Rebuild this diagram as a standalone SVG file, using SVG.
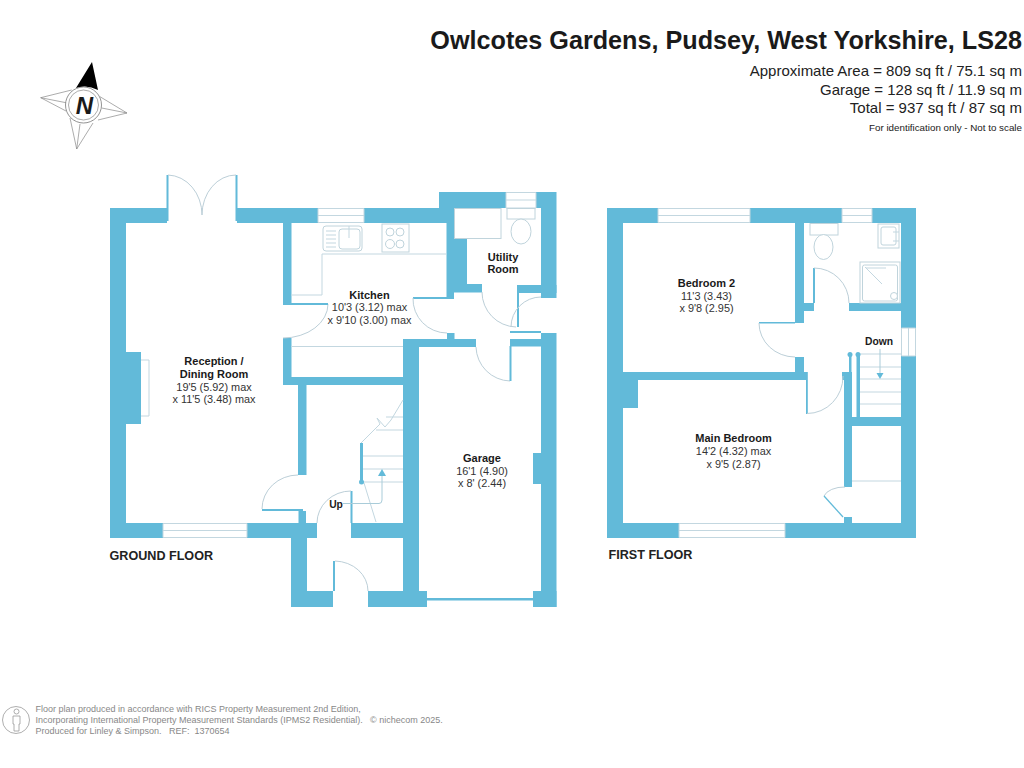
<svg xmlns="http://www.w3.org/2000/svg" width="1024" height="768" viewBox="0 0 1024 768">
<style>
text{font-family:"Liberation Sans",Arial,sans-serif;fill:#1a1a1a}
.w{fill:#62bad9;stroke:none}
.l,.win{fill:none;stroke:#c3d7e0;stroke-width:1}
.win{fill:#fff}
.d{fill:none;stroke:#bccfd8;stroke-width:1}
.f{fill:#fff;stroke:#c0d4dc;stroke-width:1}
.t{stroke:#62bad9;stroke-width:2;fill:none}
.b{font-weight:700;font-size:11px;text-anchor:middle}
.r{font-size:10.9px;text-anchor:middle;fill:#333}
.s{font-weight:700;font-size:10.3px;text-anchor:middle}
.h{font-size:15px;text-anchor:end;fill:#222}
.c{font-size:9px;fill:#888}
.fl{font-size:12.6px;font-weight:700;fill:#222}
</style>
<rect width="1024" height="768" fill="#fff"/>

<g id="header">
<text x="1022" y="49" font-size="25.2" font-weight="700" text-anchor="end" fill="#111">Owlcotes Gardens, Pudsey, West Yorkshire, LS28</text>
<text class="h" x="1022" y="76">Approximate Area = 809 sq ft / 75.1 sq m</text>
<text class="h" x="1022" y="95">Garage = 128 sq ft / 11.9 sq m</text>
<text class="h" x="1022" y="113">Total = 937 sq ft / 87 sq m</text>
<text x="1022" y="131" font-size="9.800" text-anchor="end" fill="#333">For identification only - Not to scale</text>
</g>

<g id="compass">
<path d="M71.700 90L40.700 97.700L66 111M40.700 97.700L66 102.700M100 96.700L127 113L98 120M127 113L101.700 108M70 118L76.700 149L93 123M76.700 149L80 124" fill="none" stroke="#888" stroke-width=".7"/>
<path d="M76 88 L92 62 L98 90 Q87 84 76 88Z" fill="#000"/>
<circle cx="83.500" cy="105" r="18" fill="#fff" stroke="#777" stroke-width=".8"/>
<circle cx="83.500" cy="105" r="15" fill="#fff" stroke="#888" stroke-width=".7"/>
<text x="84.500" y="114" font-size="24" font-weight="700" font-style="italic" text-anchor="middle" fill="#111">N</text>
</g>

<g id="ground-floor">
<g id="gf-walls">
<rect class="w" x="110" y="208" width="57" height="15"/>
<rect class="w" x="237" y="208" width="81" height="15"/>
<rect class="w" x="364" y="208" width="76" height="15"/>
<rect class="w" x="110" y="208" width="16" height="330"/>
<rect class="w" x="126" y="352" width="15" height="72"/>
<rect class="w" x="110" y="523" width="53" height="15"/>
<rect class="w" x="247" y="523" width="70" height="15"/>
<rect class="w" x="283" y="223" width="8.500" height="80"/>
<rect class="w" x="283" y="338" width="8.500" height="47"/>
<rect class="w" x="283" y="377" width="136" height="8"/>
<rect class="w" x="298" y="385" width="8.500" height="90"/>
<rect class="w" x="262" y="509" width="41" height="2"/>
<rect class="w" x="298.500" y="511" width="7.500" height="12"/>
<rect class="w" x="351" y="523" width="68" height="15"/>
<rect class="w" x="291" y="538" width="16" height="69"/>
<rect class="w" x="291" y="591" width="42" height="16"/>
<rect class="w" x="368" y="591" width="59" height="16"/>
<rect class="w" x="403" y="339" width="16" height="252"/>
<rect class="w" x="403" y="339" width="73" height="8"/>
<rect class="w" x="427" y="598" width="106" height="2.500"/>
<rect class="w" x="510" y="339" width="31" height="7.500"/>
<rect class="w" x="541" y="333" width="15.500" height="274"/>
<rect class="w" x="533" y="453" width="8" height="31"/>
<rect class="w" x="533" y="591" width="23.500" height="16"/>
<rect class="w" x="447" y="333" width="7.500" height="6"/>
<rect class="w" x="439" y="192" width="67" height="16"/>
<rect class="w" x="536" y="192" width="20.500" height="16"/>
<rect class="w" x="439" y="192" width="15" height="31"/>
<rect class="w" x="446.500" y="223" width="7.500" height="75"/>
<rect class="w" x="454" y="238" width="13" height="46"/>
<rect class="w" x="454" y="284" width="28" height="8.500"/>
<rect class="w" x="413" y="297" width="41" height="2"/>
<rect class="w" x="517" y="285" width="39.500" height="8"/>
<rect class="w" x="541" y="208" width="15.500" height="90"/>
<rect class="w" x="517" y="293" width="2" height="34"/>
<rect class="w" x="510" y="331" width="31" height="2"/>
</g>
<g id="gf-windows">
<path class="win" d="M318 208.500H364V222.500H318Z M318 215.500H364"/>
<path class="win" d="M163 523.500H247V537.500H163Z M163 530.500H247"/>
<path class="win" d="M506 192.500H536V208H506Z M506 200H536"/>
</g>
<g id="gf-doors">
<path class="t" d="M167.500 175V221 M236.500 175V221 M351.500 491V523 M334 561V591"/>
<path class="d" d="M168 175A35 40 0 0 1 202 215 M236 175A34 40 0 0 0 202 215"/>
<path class="d" d="M328 304A45 34 0 0 1 283 338 M413 298A34 34 0 0 0 447 333"/>
<path class="d" d="M482 292A35 35 0 0 0 516 327 M541 297A30 30 0 0 0 511 327 M476 347A35 35 0 0 0 510 381"/>
<path class="t" d="M510.500 346V381" stroke-width="1"/>
<path class="d" d="M298 475A36 34 0 0 0 262 509 M351 491A34 32 0 0 0 317 523 M335 561A34 30 0 0 1 368 591"/>
<path class="t" d="M283 304H328"/>
</g>
<g id="gf-fittings">
<path class="l" d="M141 360H149V416H141"/>
<path class="l" d="M322 254H446 M322 254V295H291 M291 346.500H403"/>
<rect class="f" x="323" y="226" width="39" height="25" rx="3"/>
<rect class="f" x="339" y="229" width="21" height="20" rx="3"/>
<path class="l" d="M326 231H336M326 235H336M326 239H336M326 243H336M326 247H336M349 226V238"/>
<rect class="f" x="382" y="224" width="27" height="28"/>
<circle class="f" cx="390" cy="232" r="4"/><circle class="f" cx="400" cy="232" r="4"/>
<circle class="f" cx="390" cy="244" r="4.500"/><circle class="f" cx="400" cy="244" r="4"/>
<rect class="f" x="454.500" y="208.500" width="46.500" height="30"/>
<rect class="f" x="507" y="208.500" width="28" height="10.500"/>
<ellipse class="f" cx="521" cy="231.500" rx="10" ry="12.500"/>
</g>
<g id="gf-stairs">
<path class="l" d="M362 456H403M362 469H403M362 482H403M376 430H403M386 417H403M361 443L376 428L380 424L377 418L385 427L391 420L403 400M364 483L376 522"/>
<rect class="w" x="360" y="443" width="3" height="39"/>
<circle class="w" cx="361.500" cy="482" r="2.500"/>
<path d="M343 503.500H379Q382 503.500 382 500V476" fill="none" stroke="#a9ccd9" stroke-width="1"/>
<path class="w" d="M382 469L386 476H378Z"/>
</g>
<g id="gf-labels">
<text class="b" x="214" y="365">Reception /</text><text class="b" x="214" y="377.500">Dining Room</text>
<text class="r" x="214" y="390.500">19'5 (5.92) max</text><text class="r" x="214" y="403">x 11'5 (3.48) max</text>
<text class="b" x="369.500" y="298.500">Kitchen</text>
<text class="r" x="369.500" y="311">10'3 (3.12) max</text><text class="r" x="369.500" y="323.500">x 9'10 (3.00) max</text>
<text class="b" x="503" y="260.500">Utility</text><text class="b" x="503" y="273">Room</text>
<text class="b" x="482" y="462">Garage</text><text class="r" x="482" y="474.500">16'1 (4.90)</text><text class="r" x="482" y="487">x 8' (2.44)</text>
<text class="s" x="336" y="508">Up</text>
<text class="fl" x="109.500" y="560">GROUND FLOOR</text>
</g>
</g>

<g id="first-floor">
<g id="ff-walls">
<rect class="w" x="607" y="208" width="51" height="15"/>
<rect class="w" x="750" y="208" width="92" height="15"/>
<rect class="w" x="872" y="208" width="44" height="15"/>
<rect class="w" x="607" y="208" width="16" height="330"/>
<rect class="w" x="901" y="208" width="15" height="120"/>
<rect class="w" x="901" y="356" width="15" height="182"/>
<rect class="w" x="607" y="523" width="72" height="15"/>
<rect class="w" x="785" y="523" width="131" height="15"/>
<rect class="w" x="795" y="223" width="9" height="100"/>
<rect class="w" x="804" y="303" width="10" height="8"/>
<rect class="w" x="849" y="303" width="52" height="8"/>
<rect class="w" x="795" y="357" width="9" height="23"/>
<rect class="w" x="759" y="322" width="36" height="1.500"/>
<rect class="w" x="622" y="372" width="184" height="8"/>
<rect class="w" x="622" y="380" width="16" height="28"/>
<rect class="w" x="806" y="372" width="1.800" height="42"/>
<rect class="w" x="842" y="372" width="10" height="8"/>
<rect class="w" x="844" y="380" width="8" height="107"/>
<rect class="w" x="852" y="417" width="49" height="9"/>
<rect class="w" x="844" y="517" width="8" height="6"/>
</g>
<g id="ff-windows">
<path class="win" d="M658 208.500H750V222.500H658Z M658 215.500H750"/>
<path class="win" d="M842 208.500H872V222.500H842Z M842 215.500H872"/>
<path class="win" d="M679 523.500H785V537.500H679Z M679 530.500H785"/>
<path class="win" d="M901.500 328H915.500V356H901.500Z M908.500 328V356"/>
</g>
<g id="ff-doors">
<path class="t" d="M814 268V303"/>
<path class="d" d="M814 268A35 35 0 0 1 849 303 M759 323A36 34 0 0 0 795 357 M807 413.500A36 37 0 0 0 843 376 M824 496A21 12 0 0 1 845 487"/>
<path d="M824 496L843 517" fill="none" stroke="#62bad9" stroke-width="1.300"/>
</g>
<g id="ff-fittings">
<rect class="f" x="810" y="223.500" width="28" height="11.500"/>
<ellipse class="f" cx="823.500" cy="247" rx="9.500" ry="12.500"/>
<rect class="f" x="878" y="224" width="21" height="24"/>
<rect class="f" x="881" y="227" width="15" height="18" rx="2"/>
<path class="l" d="M893 232H899M893 241H899"/>
<rect class="f" x="860" y="262" width="40" height="41"/>
<rect class="f" x="862.500" y="265" width="35" height="36" rx="2"/>
<path class="l" d="M865 267L882 284M866 268H886"/>
<circle class="f" cx="894" cy="296" r="3.500"/>
<path class="l" d="M852 481H901"/>
</g>
<g id="ff-stairs">
<path class="l" d="M860 354H901M860 367H901M860 379H901M860 392H901M860 404H901"/>
<rect class="w" x="849" y="354" width="2.500" height="63"/>
<rect class="w" x="856.500" y="354" width="3.500" height="63"/>
<circle class="w" cx="850" cy="354.500" r="2.500"/><circle class="w" cx="858" cy="354.500" r="2.500"/>
<path d="M880 349V373" fill="none" stroke="#a9ccd9" stroke-width="1"/>
<path class="w" d="M876.500 373H883.500L880 379Z"/>
</g>
<g id="ff-labels">
<text class="b" x="706.500" y="287">Bedroom 2</text><text class="r" x="706.500" y="299.500">11'3 (3.43)</text><text class="r" x="706.500" y="312">x 9'8 (2.95)</text>
<text class="b" x="733.500" y="442">Main Bedroom</text><text class="r" x="733.500" y="455">14'2 (4.32) max</text><text class="r" x="733.500" y="468">x 9'5 (2.87)</text>
<text class="s" x="879" y="345">Down</text>
<text class="fl" x="608.500" y="559">FIRST FLOOR</text>
</g>
</g>

<g id="footer">
<circle cx="16" cy="720" r="13.500" fill="none" stroke="#999" stroke-width=".8"/>
<circle cx="16.500" cy="711.500" r="2.500" fill="none" stroke="#999" stroke-width=".8"/>
<path d="M13 716H20V724H19V731H14V724H13Z" fill="none" stroke="#999" stroke-width=".8"/>
<text class="c" x="35.500" y="711.500">Floor plan produced in accordance with RICS Property Measurement 2nd Edition,</text>
<text class="c" x="35.500" y="722.500">Incorporating International Property Measurement Standards (IPMS2 Residential).</text>
<text class="c" x="370" y="722.500">© nichecom 2025.</text>
<text class="c" x="35.500" y="733.500" xml:space="preserve">Produced for Linley &amp; Simpson.   REF:  1370654</text>
</g>
</svg>
